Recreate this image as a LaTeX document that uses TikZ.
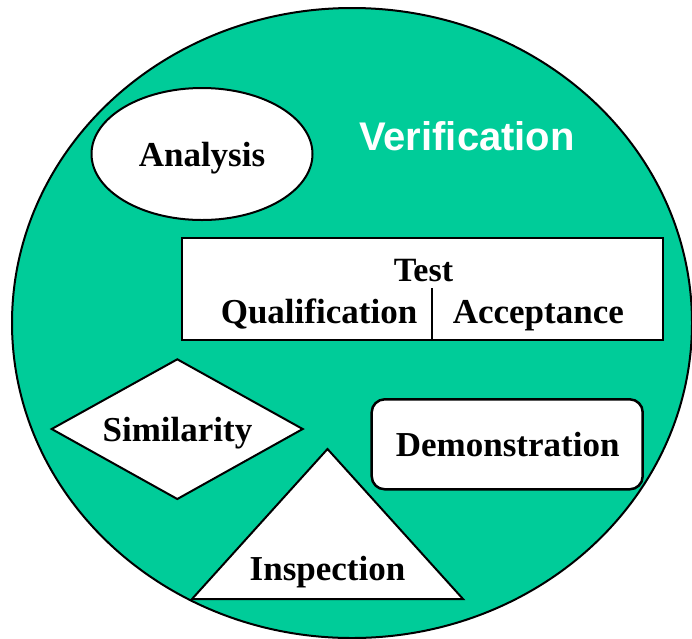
\documentclass[tikz,border=0pt]{standalone}
\usepackage{fontspec}
\setmainfont{Liberation Serif}
\setsansfont{Liberation Sans}
\definecolor{verigreen}{RGB}{0,204,153}

\begin{document}
\begin{tikzpicture}[x=1pt,y=-1pt,
  shp/.style={draw=black,fill=white,line width=2pt},
  lbl/.style={anchor=base,font=\fontsize{35}{42}\selectfont\bfseries}]
\useasboundingbox (0,0) rectangle (692,638);
% big outline
\filldraw[fill=verigreen,line width=2pt] (352,323) ellipse [x radius=340, y radius=315];
\node[anchor=base,text=white,font=\sffamily\bfseries\fontsize{40}{48}\selectfont] (verif) at (467,150) {Verification};
% analysis
\path[shp] (202,154) ellipse [x radius=110.5, y radius=66];
\node[lbl] (analysis) at (202,166.7) {Analysis};
% test box
\path[shp,line width=2.5pt] (182,238) rectangle (663,340);
\draw[line width=2pt] (432,288) -- (432,340);
\node[lbl,font=\fontsize{34}{40}\selectfont\bfseries] (test) at (423.5,281.7) {Test};
\node[lbl] (qual) at (319,323) {Qualification};
\node[lbl] (accept) at (538.3,323) {Acceptance};
% similarity
\path[shp] (51.7,429) -- (177.3,359.3) -- (302.7,429) -- (177.3,499) -- cycle;
\node[lbl] (simil) at (177.5,441.7) {Similarity};
% inspection
\path[shp] (192,599) -- (327.5,449) -- (463,599) -- cycle;
\node[lbl] (inspect) at (327.5,580) {Inspection};
% demonstration
\path[shp,line width=2.5pt,rounded corners=13pt] (371.7,399.3) rectangle (642.7,489.3);
\node[lbl] (demo) at (507.7,456.7) {Demonstration};
\end{tikzpicture}
\end{document}
